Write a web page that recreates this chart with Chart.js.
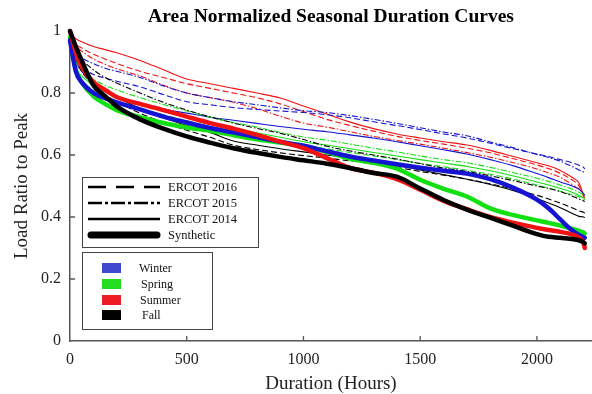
<!DOCTYPE html>
<html>
<head>
<meta charset="utf-8">
<script src="https://cdn.jsdelivr.net/npm/chart.js@4"></script>
<style>
  html, body { margin: 0; padding: 0; background: #fff; }
  #wrap { width: 592px; height: 394px; }
</style>
</head>
<body>
<div id="wrap"><canvas id="dc" width="592" height="394"></canvas></div>
<script>
// duration axis (hours) shared by every curve
const hours = [0, 25, 50, 100, 150, 200, 300, 400, 500, 600, 700, 800, 900, 1000, 1100,
  1200, 1300, 1400, 1500, 1600, 1700, 1800, 1900, 2000, 2050, 2100, 2150, 2180, 2200, 2205];

// synthetic (thick)
const winterSyn = [0.97, 0.87, 0.835, 0.8, 0.783, 0.77, 0.747, 0.724, 0.705, 0.687, 0.673, 0.658, 0.643, 0.63, 0.612,
  0.595, 0.582, 0.57, 0.559, 0.549, 0.54, 0.522, 0.494, 0.456, 0.428, 0.392, 0.357, 0.342, 0.335, 0.333];
const springSyn = [0.98, 0.875, 0.835, 0.79, 0.765, 0.745, 0.722, 0.703, 0.689, 0.678, 0.664, 0.651, 0.64, 0.629, 0.61,
  0.588, 0.575, 0.556, 0.52, 0.491, 0.466, 0.428, 0.406, 0.389, 0.381, 0.372, 0.362, 0.355, 0.35, 0.347];
const summerSyn = [1.0, 0.93, 0.885, 0.835, 0.81, 0.787, 0.765, 0.745, 0.724, 0.703, 0.685, 0.665, 0.643, 0.622, 0.59,
  0.558, 0.543, 0.522, 0.488, 0.452, 0.425, 0.4, 0.381, 0.365, 0.358, 0.352, 0.344, 0.334, 0.315, 0.30];
const fallSyn = [1.0, 0.95, 0.905, 0.825, 0.79, 0.757, 0.715, 0.685, 0.66, 0.64, 0.622, 0.607, 0.594, 0.583, 0.572,
  0.558, 0.542, 0.53, 0.492, 0.455, 0.424, 0.398, 0.371, 0.345, 0.336, 0.333, 0.329, 0.325, 0.318, 0.315];

// ERCOT 2014 (thin solid)
const winter14 = [0.95, 0.9, 0.87, 0.83, 0.805, 0.79, 0.765, 0.748, 0.735, 0.722, 0.712, 0.702, 0.692, 0.683, 0.675,
  0.665, 0.655, 0.643, 0.63, 0.617, 0.603, 0.585, 0.565, 0.54, 0.527, 0.513, 0.5, 0.49, 0.475, 0.47];
const spring14 = [0.94, 0.88, 0.855, 0.825, 0.805, 0.79, 0.765, 0.745, 0.725, 0.705, 0.688, 0.672, 0.657, 0.643, 0.632,
  0.62, 0.608, 0.597, 0.585, 0.574, 0.563, 0.549, 0.532, 0.513, 0.503, 0.492, 0.48, 0.47, 0.462, 0.46];
const summer14 = [0.99, 0.975, 0.965, 0.95, 0.94, 0.93, 0.905, 0.875, 0.845, 0.83, 0.815, 0.8, 0.784, 0.758, 0.732,
  0.706, 0.685, 0.668, 0.655, 0.643, 0.632, 0.615, 0.595, 0.575, 0.565, 0.55, 0.528, 0.51, 0.47, 0.46];
const fall14 = [0.98, 0.92, 0.885, 0.84, 0.81, 0.787, 0.75, 0.72, 0.695, 0.673, 0.645, 0.632, 0.62, 0.61, 0.6,
  0.59, 0.578, 0.566, 0.552, 0.537, 0.522, 0.505, 0.485, 0.46, 0.445, 0.43, 0.412, 0.402, 0.4, 0.398];

// ERCOT 2015 (thin dash-dot)
const winter15 = [0.97, 0.935, 0.915, 0.895, 0.88, 0.87, 0.85, 0.823, 0.8, 0.785, 0.772, 0.762, 0.752, 0.743, 0.737,
  0.727, 0.715, 0.702, 0.688, 0.674, 0.662, 0.642, 0.623, 0.602, 0.592, 0.58, 0.563, 0.552, 0.545, 0.543];
const spring15 = [0.95, 0.9, 0.875, 0.845, 0.825, 0.81, 0.785, 0.763, 0.742, 0.722, 0.705, 0.69, 0.673, 0.658, 0.648,
  0.635, 0.622, 0.61, 0.597, 0.585, 0.575, 0.56, 0.543, 0.525, 0.515, 0.503, 0.49, 0.48, 0.472, 0.47];
const summer15 = [0.97, 0.95, 0.935, 0.91, 0.893, 0.878, 0.855, 0.825, 0.8, 0.785, 0.77, 0.75, 0.725, 0.703, 0.69,
  0.675, 0.66, 0.647, 0.635, 0.622, 0.608, 0.593, 0.575, 0.555, 0.542, 0.528, 0.505, 0.49, 0.475, 0.47];
const fall15 = [0.99, 0.94, 0.91, 0.875, 0.85, 0.832, 0.8, 0.77, 0.745, 0.723, 0.703, 0.686, 0.67, 0.65, 0.628,
  0.613, 0.6, 0.587, 0.572, 0.558, 0.547, 0.533, 0.517, 0.5, 0.492, 0.482, 0.468, 0.458, 0.452, 0.45];

// ERCOT 2016 (thin dashed)
const winter16 = [0.96, 0.91, 0.885, 0.86, 0.848, 0.838, 0.82, 0.795, 0.772, 0.762, 0.753, 0.747, 0.742, 0.737, 0.73,
  0.72, 0.707, 0.695, 0.682, 0.668, 0.655, 0.638, 0.62, 0.603, 0.595, 0.585, 0.575, 0.567, 0.56, 0.555];
const spring16 = [0.93, 0.87, 0.84, 0.81, 0.79, 0.775, 0.75, 0.73, 0.71, 0.692, 0.675, 0.66, 0.645, 0.632, 0.62,
  0.608, 0.597, 0.585, 0.573, 0.562, 0.551, 0.538, 0.522, 0.503, 0.493, 0.483, 0.472, 0.465, 0.458, 0.455];
const summer16 = [0.97, 0.955, 0.945, 0.925, 0.91, 0.895, 0.87, 0.85, 0.83, 0.815, 0.8, 0.785, 0.765, 0.74, 0.715,
  0.695, 0.677, 0.66, 0.647, 0.635, 0.622, 0.607, 0.588, 0.568, 0.556, 0.541, 0.52, 0.5, 0.465, 0.455];
const fall16 = [0.97, 0.91, 0.87, 0.825, 0.795, 0.772, 0.735, 0.705, 0.68, 0.657, 0.632, 0.618, 0.607, 0.598, 0.59,
  0.581, 0.571, 0.56, 0.547, 0.535, 0.522, 0.507, 0.49, 0.47, 0.458, 0.445, 0.43, 0.42, 0.415, 0.412];

const seasonNames = ['Winter', 'Spring', 'Summer', 'Fall'];
const seasonColors = ['#1414d2', '#12e012', '#f01212', '#000000'];
const legendColors = ['#3f48cc', '#22dd22', '#ee1c24', '#000000'];
const sourceNames = ['ERCOT 2016', 'ERCOT 2015', 'ERCOT 2014', 'Synthetic'];
const xTickVals = [0, 500, 1000, 1500, 2000];
const yTickVals = [0, 0.2, 0.4, 0.6, 0.8, 1];
const chartTitle = 'Area Normalized Seasonal Duration Curves';

const SERIF = '"Liberation Serif", "DejaVu Serif", serif';

function pts(vals) { return hours.map((h, i) => ({ x: h, y: vals[i] })); }

function line(label, vals, color, kind) {
  const ds = {
    label, data: pts(vals), borderColor: color, backgroundColor: color,
    pointRadius: 0, fill: false, clip: false, cubicInterpolationMode: 'monotone',
    borderWidth: 1.1
  };
  if (kind === 'syn') { ds.borderWidth = 4.5; ds.borderCapStyle = 'round'; ds.borderJoinStyle = 'round'; }
  if (kind === '2016') ds.borderDash = [6, 3];
  if (kind === '2015') ds.borderDash = [6, 2, 1.5, 2];
  return ds;
}

// dataset 0 is drawn last (on top): thick curves first
const datasets = [
  line('Fall Synthetic', fallSyn, seasonColors[3], 'syn'),
  line('Summer Synthetic', summerSyn, seasonColors[2], 'syn'),
  line('Winter Synthetic', winterSyn, seasonColors[0], 'syn'),
  line('Spring Synthetic', springSyn, seasonColors[1], 'syn'),
  line('Fall 2014', fall14, seasonColors[3], '2014'),
  line('Fall 2015', fall15, seasonColors[3], '2015'),
  line('Fall 2016', fall16, seasonColors[3], '2016'),
  line('Spring 2014', spring14, seasonColors[1], '2014'),
  line('Spring 2015', spring15, seasonColors[1], '2015'),
  line('Spring 2016', spring16, seasonColors[1], '2016'),
  line('Winter 2014', winter14, seasonColors[0], '2014'),
  line('Winter 2015', winter15, seasonColors[0], '2015'),
  line('Winter 2016', winter16, seasonColors[0], '2016'),
  line('Summer 2014', summer14, seasonColors[2], '2014'),
  line('Summer 2015', summer15, seasonColors[2], '2015'),
  line('Summer 2016', summer16, seasonColors[2], '2016')
];

// title, inward tick marks + the two legend boxes
const decor = {
  id: 'decor',
  afterDraw(chart) {
    const { ctx, chartArea, scales: { x, y } } = chart;
    ctx.save();
    ctx.fillStyle = '#000';
    ctx.font = 'bold 19.5px ' + SERIF;
    ctx.textAlign = 'center';
    ctx.textBaseline = 'middle';
    ctx.fillText(chartTitle, (chartArea.left + chartArea.right) / 2, 17);

    ctx.strokeStyle = '#555';
    ctx.lineWidth = 1.3;
    ctx.beginPath();
    xTickVals.slice(1).forEach(t => { const px = x.getPixelForValue(t); ctx.moveTo(px, y.bottom); ctx.lineTo(px, y.bottom - 5); });
    yTickVals.slice(1, -1).forEach(t => { const py = y.getPixelForValue(t); ctx.moveTo(x.left, py); ctx.lineTo(x.left + 5, py); });
    ctx.stroke();

    // line-style legend
    ctx.fillStyle = '#fff';
    ctx.fillRect(82, 177, 176, 70);
    ctx.strokeStyle = '#444';
    ctx.lineWidth = 1;
    ctx.strokeRect(82.5, 177.5, 176, 70);
    const rows = [187, 203, 219, 235];
    const dashes = [[18, 10], [14, 3, 3, 3], [], []];
    ctx.strokeStyle = '#000';
    rows.forEach((ry, i) => {
      ctx.beginPath();
      ctx.setLineDash(dashes[i]);
      ctx.lineWidth = i === 3 ? 7 : 2.5;
      ctx.lineCap = i === 3 ? 'round' : 'butt';
      ctx.moveTo(i === 3 ? 91 : 88, ry);
      ctx.lineTo(i === 3 ? 157 : 160, ry);
      ctx.stroke();
    });
    ctx.setLineDash([]);
    ctx.lineCap = 'butt';
    ctx.fillStyle = '#111';
    ctx.font = '12.5px ' + SERIF;
    ctx.textAlign = 'left';
    sourceNames.forEach((s, i) => ctx.fillText(s, 168, rows[i] + 1));

    // season colour legend
    ctx.fillStyle = '#fff';
    ctx.fillRect(82, 252, 130, 77);
    ctx.strokeStyle = '#444';
    ctx.lineWidth = 1;
    ctx.strokeRect(82.5, 252.5, 130, 77);
    const srows = [268, 284, 300, 315];
    const tx = [139, 141, 140, 142];
    seasonNames.forEach((s, i) => {
      ctx.fillStyle = legendColors[i];
      ctx.fillRect(102, srows[i] - 5, 19, 10);
      ctx.fillStyle = '#111';
      ctx.font = '12px ' + SERIF;
      ctx.fillText(s, tx[i], srows[i] + 1);
    });
    ctx.restore();
  }
};

new Chart(document.getElementById('dc'), {
  type: 'line',
  data: { datasets },
  options: {
    responsive: false,
    animation: false,
    devicePixelRatio: 1,
    layout: { padding: { top: 31 } },
    plugins: {
      legend: { display: false },
      tooltip: { enabled: false },
      title: { display: false }
    },
    scales: {
      x: {
        type: 'linear',
        min: 0,
        max: 2236,
        afterFit: s => { s.height = 53; },
        afterBuildTicks: s => { s.ticks = xTickVals.map(v => ({ value: v })); },
        grid: { display: false, drawTicks: false },
        border: { color: '#555', width: 1.5 },
        ticks: { autoSkip: false, maxRotation: 0, padding: 9, color: '#222', font: { family: SERIF, size: 16 },
          callback: v => String(v) },
        title: { display: true, text: 'Duration (Hours)', color: '#222', padding: 0,
          font: { family: SERIF, size: 19, lineHeight: 1 } }
      },
      y: {
        type: 'linear',
        min: 0,
        max: 1,
        afterFit: s => { s.width = 70; },
        afterBuildTicks: s => { s.ticks = yTickVals.map(v => ({ value: v })); },
        grid: { display: false, drawTicks: false },
        border: { color: '#555', width: 1.5 },
        ticks: { autoSkip: false, padding: 9, color: '#222', font: { family: SERIF, size: 16 },
          callback: v => String(+v.toFixed(1)) },
        title: { display: true, text: 'Load Ratio to Peak', color: '#222', padding: { top: 12.5, bottom: 0 },
          font: { family: SERIF, size: 19, lineHeight: 1 } }
      }
    }
  },
  plugins: [decor]
});
</script>
</body>
</html>
